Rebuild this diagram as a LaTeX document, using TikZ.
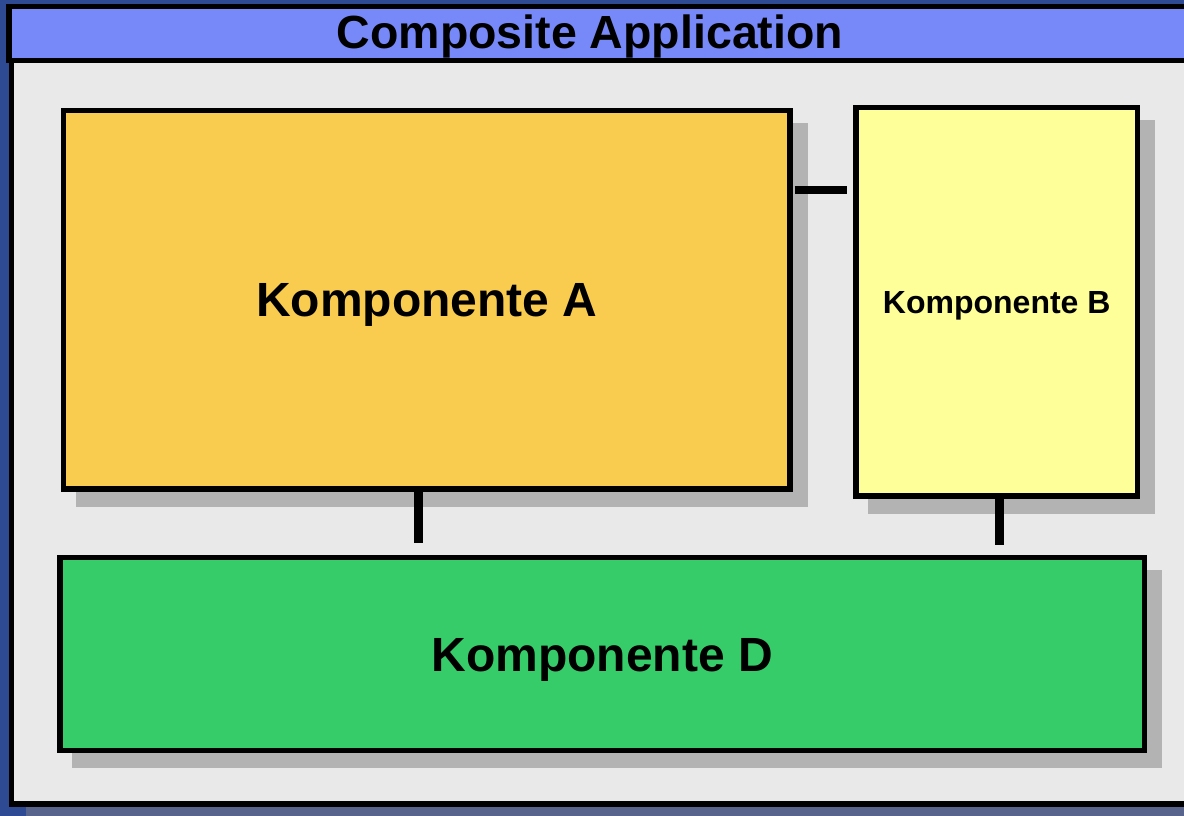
\documentclass[tikz,border=0pt]{standalone}
\usepackage{fontspec}
\setmainfont{Liberation Sans}
\definecolor{bgblue}{HTML}{2E4A92}
\definecolor{titleblue}{HTML}{7788F8}
\definecolor{panelgray}{HTML}{E9E9E9}
\definecolor{panelshadow}{HTML}{58648C}
\definecolor{shadowgray}{HTML}{B3B3B3}
\definecolor{colA}{HTML}{F9CC4F}
\definecolor{colB}{HTML}{FFFF99}
\definecolor{colD}{HTML}{36CC69}
\pgfdeclarelayer{bg}
\pgfdeclarelayer{shade}
\pgfsetlayers{bg,shade,main}
\begin{document}
\begin{tikzpicture}[x=1pt,y=-1pt,
  frame/.style={draw=black,line width=5.5pt},
  comp/.style={frame,inner sep=0pt,text depth=0pt,align=center},
  bigtext/.style={font=\bfseries\fontsize{48}{50}\selectfont,text height=34pt},
  smalltext/.style={font=\bfseries\fontsize{32}{36}\selectfont,text height=22.9pt},
  titletext/.style={font=\bfseries\fontsize{46.5}{50}\selectfont,text height=32.9pt,text depth=0pt,inner sep=0pt},
  conn/.style={draw=black,line width=8.5pt}]
\useasboundingbox (0,0) rectangle (1184,816);
\clip (0,0) rectangle (1184,816);
\begin{pgfonlayer}{bg}
  \fill[bgblue] (0,0) rectangle (1184,816);
  \fill[panelshadow] (26,806.75) rectangle (1250,830);
  \draw[frame,fill=panelgray] (11.5,60) rectangle (1250,804);
  \draw[frame,fill=titleblue] (9,6.5) rectangle (1250,60.5);
\end{pgfonlayer}
\node[titletext] (title) at (590,32) {Composite Application};
\node[comp,bigtext,fill=colA,minimum width=726.5pt,minimum height=378.5pt] (A) at (426.75,299.75) {Komponente A};
\node[comp,smalltext,fill=colB,minimum width=281.5pt,minimum height=388.5pt] (B) at (996.75,301.75) {Komponente B};
\node[comp,bigtext,fill=colD,minimum width=1084.5pt,minimum height=193pt] (D) at (602.25,654) {Komponente D};
\begin{pgfonlayer}{shade}
  \foreach \n in {A,B,D}
    \fill[shadowgray] ([shift={(15,15)}]\n.north west) rectangle ([shift={(15,15)}]\n.south east);
\end{pgfonlayer}
\draw[conn,shorten <=2pt,shorten >=6pt] ([yshift=109.75pt]A.east) -- ([yshift=109.75pt]A.east -| B.west);
\draw[conn,shorten >=11.5pt] ([xshift=-8.45pt]A.south) -- ([xshift=-8.45pt]A.south |- D.north);
\draw[conn,shorten >=9.5pt] ([xshift=2.95pt]B.south) -- ([xshift=2.95pt]B.south |- D.north);
\end{tikzpicture}
\end{document}
